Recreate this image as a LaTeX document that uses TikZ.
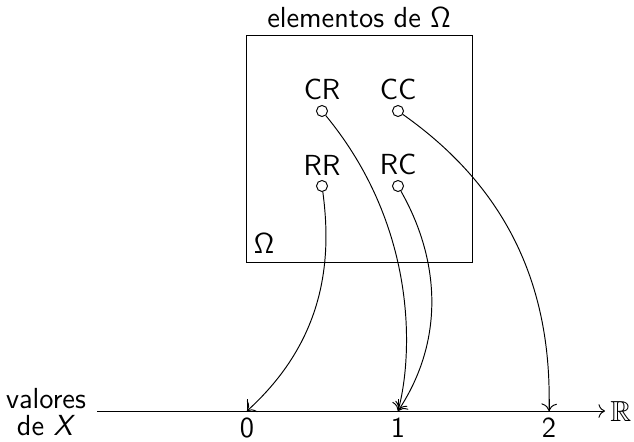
\documentclass[tikz,border=0pt]{standalone}
\usepackage{amssymb}
\usetikzlibrary{arrows.meta,fit}
\begin{document}
\begin{tikzpicture}[x=0.417pt,y=-0.417pt,font=\sffamily\fontsize{12.1}{15}\selectfont,
  pt/.style={circle,draw,inner sep=0pt,minimum size=4.6pt},
  lbl/.style={inner sep=1.8pt},
  map/.style={-{To[scale=1.25]},thin}]
\useasboundingbox (0,0) rectangle (634,441);
% box
\node[draw,inner sep=0pt,fit={(246,35) (472,262)}] (box) {};
\node[above,inner sep=2.8pt] (title) at (box.north) {elementos de $\mathsf{\Omega}$};
\node (omega) at (264,244) {$\mathsf{\Omega}$};
% points
\node[pt] (cr) at (322,111) {};
\node[pt] (cc) at (398,111) {};
\node[pt] (rr) at (322,186) {};
\node[pt] (rc) at (398,186) {};
\node[lbl,above] (crl) at (cr.north) {CR};
\node[lbl,above] (ccl) at (cc.north) {CC};
\node[lbl,above] (rrl) at (rr.north) {RR};
\node[lbl,above] (rcl) at (rc.north) {RC};
% axis
\coordinate (axs) at (97,411);
\coordinate (axe) at (605,411);
\draw[-{To[scale=1.1]}] (axs) -- (axe);
\node[right,inner sep=2pt] (R) at (axe) {$\mathbb{R}$};
\coordinate (v0) at (247,411);
\coordinate (v1) at (398,411);
\coordinate (v2) at (549,411);
\draw (v0) -- ++(0,-12);
\draw (v1) -- ++(0,-12);
\draw (v2) -- ++(0,-12);
\node[below,inner sep=2.8pt] (l0) at (v0) {0};
\node[below,inner sep=2.8pt] (l1) at (v1) {1};
\node[below,inner sep=2.8pt] (l2) at (v2) {2};
\node[align=center,font=\sffamily\fontsize{12.1}{11}\selectfont] (vx) at (46,412) {valores\\de \textsl{X}};
% maps
\draw[map] (cr) .. controls (420,230) and (412,360) .. (v1);
\draw[map] (rc) .. controls (440,260) and (445,340) .. (v1);
\draw[map] (rr) .. controls (332,260) and (325,340) .. (v0);
\draw[map] (cc) .. controls (510,190) and (552,290) .. (v2);
\end{tikzpicture}
\end{document}
